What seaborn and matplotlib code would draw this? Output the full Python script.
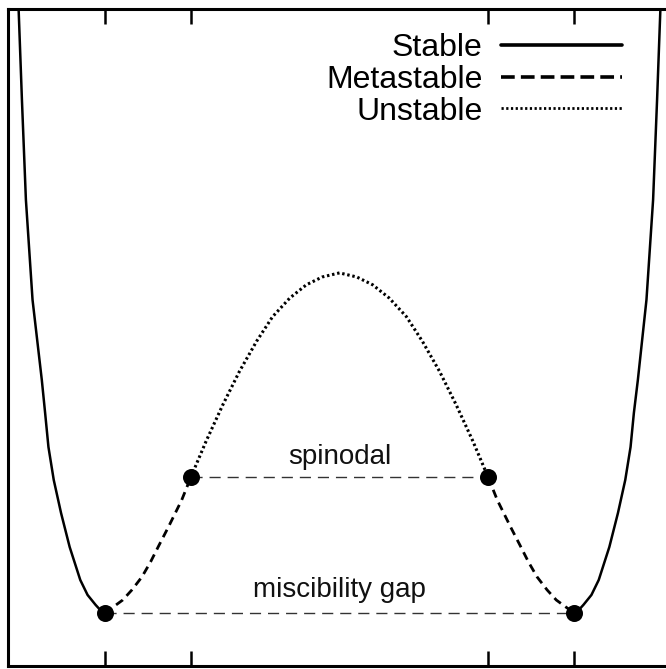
import matplotlib
matplotlib.use("Agg")
import matplotlib.pyplot as plt
from matplotlib.lines import Line2D
import seaborn as sns
import pandas as pd

# ---- data (composition x, free energy G; minima = 0, maximum = 1) ----
stable_left_x = [0.016, 0.021, 0.027, 0.037, 0.051, 0.056, 0.061, 0.069, 0.080, 0.093, 0.109,
                 0.120, 0.132, 0.139, 0.146]
stable_left_g = [1.776, 1.509, 1.215, 0.921, 0.685, 0.588, 0.488, 0.391, 0.294, 0.194, 0.097,
                 0.053, 0.024, 0.009, 0.000]
stable_right_x = [0.854, 0.861, 0.868, 0.880, 0.891, 0.907, 0.920, 0.931, 0.939, 0.944, 0.950,
                  0.963, 0.973, 0.979, 0.984]
stable_right_g = [0.000, 0.009, 0.024, 0.053, 0.097, 0.194, 0.294, 0.391, 0.488, 0.588, 0.685,
                  0.921, 1.215, 1.509, 1.776]

meta_left_x = [0.146, 0.159, 0.173, 0.187, 0.202, 0.215, 0.228, 0.242, 0.262, 0.276]
meta_left_g = [0.000, 0.018, 0.038, 0.068, 0.106, 0.150, 0.200, 0.253, 0.332, 0.400]
meta_right_x = [0.724, 0.738, 0.758, 0.772, 0.785, 0.798, 0.813, 0.827, 0.841, 0.854]
meta_right_g = [0.400, 0.332, 0.253, 0.200, 0.150, 0.106, 0.068, 0.038, 0.018, 0.000]

unstable_x = [0.276, 0.299, 0.324, 0.349, 0.375, 0.399, 0.425, 0.450, 0.474, 0.500,
              0.526, 0.550, 0.575, 0.601, 0.625, 0.651, 0.676, 0.701, 0.724]
unstable_g = [0.400, 0.506, 0.612, 0.710, 0.799, 0.871, 0.926, 0.965, 0.988, 1.000,
              0.988, 0.965, 0.926, 0.871, 0.799, 0.710, 0.612, 0.506, 0.400]

binodal_x = [0.146, 0.854]
binodal_g = [0.0, 0.0]
spinodal_x = [0.276, 0.724]
spinodal_g = [0.400, 0.400]

tick_positions = [0.146, 0.276, 0.724, 0.854]
legend_labels = ["Stable", "Metastable", "Unstable"]
annotations = ["spinodal", "miscibility gap"]

# ---- style ----
sns.set_theme(style="white")
plt.rcParams["font.family"] = ["Liberation Sans", "DejaVu Sans"]
plt.rcParams["text.color"] = "black"

fig = plt.figure(figsize=(6.66, 6.69), dpi=100)
ax = fig.add_axes([8 / 666, 3 / 669, 663 / 666, 657 / 669])

def seg(x, g, color="black", **kw):
    df = pd.DataFrame({"x": x, "g": g})
    sns.lineplot(data=df, x="x", y="g", ax=ax, sort=False, estimator=None,
                 color=color, legend=False, **kw)

# tie lines
seg(binodal_x, binodal_g, color="#333333", linewidth=1.0, linestyle=(0, (8, 5)), zorder=2)
seg(spinodal_x, spinodal_g, color="#333333", linewidth=1.0, linestyle=(0, (8, 5)), zorder=2)

# curves
seg(stable_left_x, stable_left_g, linewidth=1.8, zorder=3)
seg(stable_right_x, stable_right_g, linewidth=1.8, zorder=3)
seg(meta_left_x, meta_left_g, linewidth=2.0, linestyle=(0, (3.0, 2.0)), zorder=3)
seg(meta_right_x, meta_right_g, linewidth=2.0, linestyle=(0, (3.0, 2.0)), zorder=3)
seg(unstable_x, unstable_g, linewidth=2.2, linestyle=(0, (0.8, 0.9)), zorder=3)

# points
pts = pd.DataFrame({"x": binodal_x + spinodal_x, "g": binodal_g + spinodal_g})
sns.scatterplot(data=pts, x="x", y="g", ax=ax, s=150, color="black",
                edgecolor="black", linewidth=0, zorder=5, legend=False)

# annotations
ax.text(0.5, 0.458, annotations[0], ha="center", va="center", fontsize=20, color="#111111")
ax.text(0.5, 0.068, annotations[1], ha="center", va="center", fontsize=20, color="#111111")

# axes
ax.set_xlim(0, 1)
ax.set_ylim(-0.156, 1.776)
ax.set_xticks(tick_positions)
ax.set_yticks([])
ax.set_xlabel("")
ax.set_ylabel("")
ax.tick_params(axis="x", direction="in", length=11, width=1.8, color="black",
               top=True, bottom=True, labelbottom=False, labeltop=False)
for side in ["left", "top", "bottom"]:
    ax.spines[side].set_visible(True)
    ax.spines[side].set_linewidth(2.2)
    ax.spines[side].set_color("black")
ax.spines["right"].set_visible(False)

# legend
handles = [
    Line2D([], [], color="black", linewidth=2.6),
    Line2D([], [], color="black", linewidth=2.6, linestyle=(0, (3.8, 1.7))),
    Line2D([], [], color="black", linewidth=2.0, linestyle=(0, (0.8, 0.9))),
]
ax.legend(handles, legend_labels, loc="upper right", bbox_to_anchor=(0.926, 0.963),
          frameon=False, markerfirst=False, fontsize=23, handlelength=3.8,
          handletextpad=0.56, labelspacing=0.05, borderpad=0, borderaxespad=0,
          labelcolor="black")

fig.savefig("out.png", dpi=100)
